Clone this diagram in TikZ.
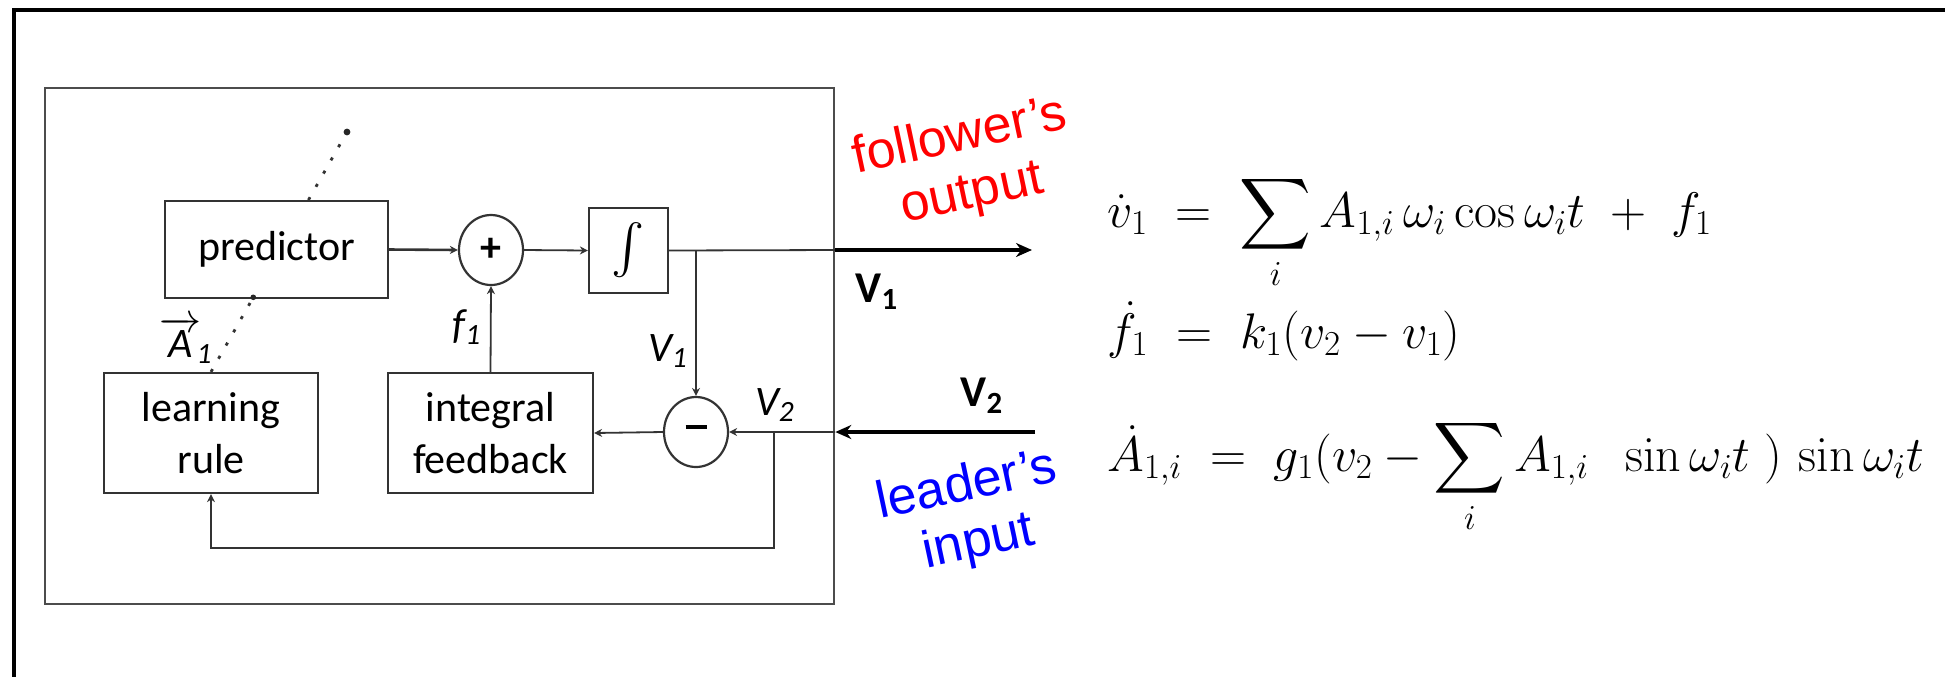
\RequirePackage{fix-cm}
\documentclass[tikz,border=0pt]{standalone}
\usepackage{exscale}
\usepackage[no-math]{fontspec}
\setmainfont{Carlito}
\newfontfamily\arialf{Liberation Sans}
\usetikzlibrary{arrows.meta,shapes.geometric,calc}
\pgfdeclarelayer{bg}
\pgfsetlayers{bg,main}
\begin{document}
\begin{tikzpicture}[x=0.5pt,y=-0.5pt,
  blk/.style={draw=black!80,line width=1.1pt,fill=white,rectangle,inner sep=0pt,font=\fontsize{21}{26}\selectfont,align=center},
  sj/.style={draw=black!80,line width=1.1pt,fill=white,ellipse,inner sep=0pt,minimum width=32pt,minimum height=35pt,font=\fontsize{21}{26}\selectfont\bfseries},
  ln/.style={draw=black!80,line width=0.9pt},
  sa/.style={ln,-{Stealth[length=4pt,width=4pt]}},
  bigarrow/.style={draw=black,line width=2pt,-{Stealth[length=8pt,width=7pt]}},
  lab/.style={font=\fontsize{21}{26}\selectfont\itshape,inner sep=0pt},
  blab/.style={font=\fontsize{22}{26}\selectfont\bfseries,inner sep=0pt},
  eqn/.style={font=\fontsize{25}{30}\selectfont,inner sep=0pt,anchor=base west},
  dotline/.style={draw=black!80,line width=1.4pt,dash pattern=on 1.6pt off 6pt},
  rot/.style={font=\arialf\fontsize{26}{29}\selectfont,align=center,rotate=12,inner sep=0pt}
]
\useasboundingbox (0,0) rectangle (1945,677);
\begin{pgfonlayer}{bg}
\fill[white] (0,0) rectangle (1945,677);
\end{pgfonlayer}
% outer frame (cropped at right and bottom)
\draw[line width=2pt] (1945,10) -- (14,10) -- (14,677);
% inner system box
\node[draw=black!70,line width=1.3pt,rectangle,inner sep=0pt,minimum width=394.5pt,minimum height=258pt] (sys) at (439.5,346) {};
% blocks
\node[blk,minimum width=111.5pt,minimum height=48.5pt] (pred) at (276.5,249.5) {predictor};
\node[sj] (plus) at (491,250) {+};
\node[blk,minimum width=39.5pt,minimum height=42.5pt,font=\fontsize{27}{30}\selectfont] (integ) at (628.5,250.5) {$\int$};
\node[blk,minimum width=107pt,minimum height=60pt] (learn) at (211,433) {learning\\rule};
\node[blk,minimum width=102.5pt,minimum height=60pt] (ifb) at (490.5,433) {integral\\feedback};
\node[sj] (minus) at (696,432) {\rule[0.22em]{0.5em}{0.1em}};
% coordinates
\coordinate (J1) at (696,250);
\coordinate (o1) at (sys.east |- J1);
\coordinate (otip) at (1032,250);
\coordinate (J2) at (774,432);
\coordinate (i1) at (sys.east |- J2);
\coordinate (itail) at (1035,432);
\coordinate (fb) at (774,548);
\coordinate (dtop) at (347,132);
% dotted line behind predictor
\begin{pgfonlayer}{bg}
\draw[dotline] (learn.north) -- (dtop);
\end{pgfonlayer}
\fill[black!85] (dtop) circle (1.7pt);
\fill[black!85] ($(learn.north)!0.311!(dtop)$) circle (1.4pt);
% connectors
\draw[sa,line width=1.3pt] (pred.east) -- (plus.west);
\draw[sa] (plus.east) -- (integ.west);
\draw[ln] (integ.east) -- (o1);
\draw[bigarrow] (o1) -- (otip);
\draw[sa] (J1) -- (minus.north);
\draw[bigarrow] (itail) -- (i1);
\draw[sa] (i1) -- (minus.east);
\draw[sa] (minus.west) -- (ifb.east);
\draw[sa] (ifb.north) -- (plus.south);
\draw[sa] (J2) -- (fb) -| (learn.south);
% labels
\node[lab] (lA) at (186,340) {$\overrightarrow{\mbox{\itshape A}}$\kern-0.12em\textsubscript{1}};
\node[lab] (lf) at (467,327) {f\textsubscript{1}};
\node[lab] (lv1) at (668,351) {V\textsubscript{1}};
\node[lab] (lv2) at (775,405) {V\textsubscript{2}};
\node[blab] (bV1) at (877,292) {V\textsubscript{1}};
\node[blab] (bV2) at (982,396) {V\textsubscript{2}};
\node[rot,text=red] (fo) at (966,166) {follower’s\\output};
\node[rot,text=blue] (li) at (973,515) {leader’s\\input};
% equations
\node[eqn] (e1) at (1107,227) {$\displaystyle \dot v_1 \;=\; \sum\limits_i A_{1,i}\,\omega_i \cos\omega_i t \;+\; f_1$};
\node[eqn] (e2) at (1107,348) {$\displaystyle \dot f_1 \;=\; k_1(v_2 - v_1)$};
\node[eqn] (e3) at (1107,471) {$\displaystyle \dot A_{1,i} \;=\; g_1(v_2 - \sum\limits_i A_{1,i} \;\; \sin\omega_i t \;)\,\sin\omega_i t$};
\end{tikzpicture}
\end{document}
